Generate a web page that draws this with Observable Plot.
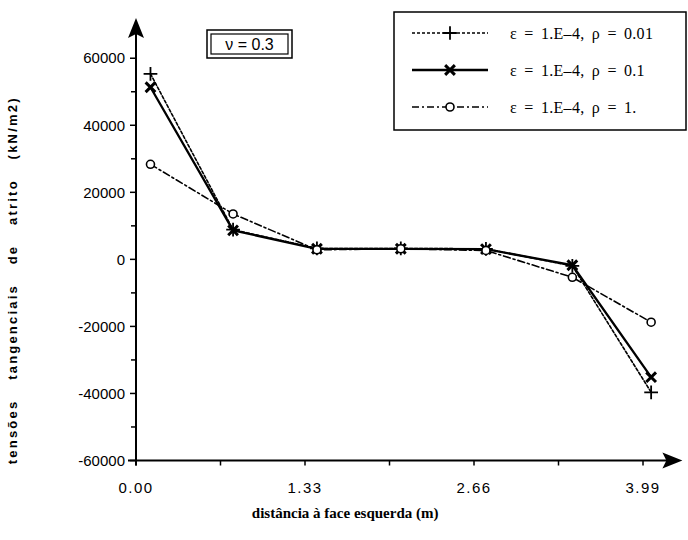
<!DOCTYPE html>
<html><head><meta charset="utf-8">
<script src="https://cdn.jsdelivr.net/npm/d3@7"></script>
<script src="https://cdn.jsdelivr.net/npm/@observablehq/plot@0.6"></script>
<style>
body{margin:0;background:#fff}
#chart{width:688px;height:540px}
</style>
</head><body><div id="chart"></div>
<script>
// ---- data ----
const xPositions = [0.11, 0.76, 1.42, 2.08, 2.75, 3.43, 4.05];
const seriesNames = ["ε = 1.E–4, ρ = 0.01", "ε = 1.E–4, ρ = 0.1", "ε = 1.E–4, ρ = 1."];
const rho001 = [55500, 9000, 3400, 3400, 3300, -1800, -39500];
const rho01  = [51500, 8800, 3300, 3300, 3200, -1600, -35000];
const rho1   = [28500, 13700, 3000, 3300, 2800, -5200, -18600];
const yMajorTicks = [-60000, -40000, -20000, 0, 20000, 40000, 60000];
const yMinorTicks = [-50000, -30000, -10000, 10000, 30000, 50000];
const xMajorTicks = [0, 1.33, 2.66, 3.99];
const xTickLabels = ["0.00", "1.33", "2.66", "3.99"];
const xMinorTicks = [0.665, 1.995, 3.325];
const xDomain = [0, 4.3];
const yDomain = [-60000, 72000];
const yLabel = "tensões tangenciais de atrito (kN/m2)";
const xLabel = "distância à face esquerda (m)";
const boxLabel = "ν = 0.3";

// ---- styles ----
const styles = [
  {dash: "3,2", width: 1.6, symbol: "plus", symD3: d3.symbolPlus, r: 4.5, sw: 1.8, fill: "none"},
  {dash: null, width: 2.3, symbol: "times", symD3: d3.symbolTimes, r: 4.5, sw: 3, fill: "none"},
  {dash: "7,3,2,3", width: 1.6, symbol: "circle", symD3: d3.symbolCircle, r: 4, sw: 1.6, fill: "white"}
];
const allSeries = [rho001, rho01, rho1];
const rows = allSeries.flatMap((vals, i) => vals.map((v, j) => ({x: xPositions[j], y: v, s: i})));

function axesMark(index, scales) {
  const x = scales.x, y = scales.y;
  const g = d3.create("svg:g");
  const x0 = x(xDomain[0]), xEnd = x(xDomain[1]);
  const yBot = y(yDomain[0]), yTop = y(yDomain[1]);
  g.append("line").attr("x1", x0).attr("x2", x0).attr("y1", yBot + 5).attr("y2", yTop + 12)
    .attr("stroke", "black").attr("stroke-width", 2);
  g.append("line").attr("x1", x0 - 8).attr("x2", xEnd - 10).attr("y1", yBot).attr("y2", yBot)
    .attr("stroke", "black").attr("stroke-width", 2);
  g.append("path").attr("d", `M${x0},${yTop} L${x0 + 8},${yTop + 20} L${x0},${yTop + 16} L${x0 - 8},${yTop + 20} Z`).attr("fill", "black");
  g.append("path").attr("d", `M${xEnd},${yBot} L${xEnd - 20},${yBot - 8} L${xEnd - 16},${yBot} L${xEnd - 20},${yBot + 8} Z`).attr("fill", "black");
  for (const t of yMajorTicks) {
    g.append("line").attr("x1", x0 - 6).attr("x2", x0 + 1).attr("y1", y(t)).attr("y2", y(t)).attr("stroke", "black").attr("stroke-width", 1.5);
    g.append("text").attr("x", x0 - 11).attr("y", y(t)).attr("dy", "0.35em").attr("text-anchor", "end")
      .attr("font-family", "Liberation Sans, Arial, sans-serif").attr("font-size", 15).attr("fill", "black")
      .text(String(t));
  }
  for (const t of yMinorTicks) {
    g.append("line").attr("x1", x0 - 5).attr("x2", x0 + 1).attr("y1", y(t)).attr("y2", y(t)).attr("stroke", "black").attr("stroke-width", 1.5);
  }
  xMajorTicks.forEach((t, i) => {
    g.append("line").attr("x1", x(t)).attr("x2", x(t)).attr("y1", yBot).attr("y2", yBot + 5).attr("stroke", "black").attr("stroke-width", 1.5);
    g.append("text").attr("x", x(t)).attr("y", yBot + 32).attr("text-anchor", "middle")
      .attr("font-family", "Liberation Sans, Arial, sans-serif").attr("font-size", 15).attr("letter-spacing", 1.5).attr("fill", "black")
      .text(xTickLabels[i]);
  });
  for (const t of xMinorTicks) {
    g.append("line").attr("x1", x(t)).attr("x2", x(t)).attr("y1", yBot).attr("y2", yBot + 5).attr("stroke", "black").attr("stroke-width", 1.5);
  }
  g.append("text").attr("transform", `translate(17,${(yBot + yTop) / 2 + 41}) rotate(-90)`).attr("text-anchor", "middle")
    .attr("font-family", "Liberation Sans, Arial, sans-serif").attr("font-size", 13).attr("font-weight", "bold")
    .attr("letter-spacing", 2.2).attr("word-spacing", 14).attr("fill", "black").text(yLabel);
  g.append("text").attr("x", (x0 + xEnd) / 2 - 64).attr("y", yBot + 57).attr("text-anchor", "middle")
    .attr("font-family", "Liberation Serif, Times New Roman, serif").attr("font-size", 15).attr("font-weight", "bold")
    .attr("fill", "black").text(xLabel);
  return g.node();
}

function annotationsMark() {
  const g = d3.create("svg:g");
  g.append("rect").attr("x", 207).attr("y", 30).attr("width", 85).attr("height", 28).attr("fill", "white").attr("stroke", "black").attr("stroke-width", 1.5);
  g.append("rect").attr("x", 211).attr("y", 34).attr("width", 77).attr("height", 20).attr("fill", "none").attr("stroke", "black").attr("stroke-width", 1.2);
  g.append("text").attr("x", 249.5).attr("y", 44).attr("dy", "0.36em").attr("text-anchor", "middle")
    .attr("font-family", "Liberation Sans, Arial, sans-serif").attr("font-size", 16).attr("fill", "black").text(boxLabel);
  g.append("rect").attr("x", 394).attr("y", 12).attr("width", 292).attr("height", 118).attr("fill", "white").attr("stroke", "black").attr("stroke-width", 1.5);
  seriesNames.forEach((name, i) => {
    const st = styles[i];
    const cy = 33 + i * 37;
    g.append("line").attr("x1", 412).attr("x2", 488).attr("y1", cy).attr("y2", cy).attr("stroke", "black")
      .attr("stroke-width", st.width).attr("stroke-dasharray", st.dash);
    g.append("path").attr("transform", `translate(450,${cy})`)
      .attr("d", d3.symbol(st.symD3, st.r * st.r * Math.PI)())
      .attr("fill", st.fill).attr("stroke", "black").attr("stroke-width", st.sw);
    g.append("text").attr("x", 510).attr("y", cy).attr("dy", "0.35em").attr("text-anchor", "start")
      .attr("font-family", "Liberation Serif, Times New Roman, serif").attr("font-size", 16)
      .attr("word-spacing", 3).attr("letter-spacing", 0.3).attr("fill", "black").text(name);
  });
  return g.node();
}

const marks = [axesMark];
styles.forEach((st, i) => {
  const data = rows.filter(d => d.s === i);
  marks.push(Plot.line(data, {x: "x", y: "y", stroke: "black", strokeWidth: st.width, strokeDasharray: st.dash || undefined}));
});
styles.forEach((st, i) => {
  const data = rows.filter(d => d.s === i);
  marks.push(Plot.dot(data, {x: "x", y: "y", symbol: st.symbol, r: st.r, stroke: "black", strokeWidth: st.sw, fill: st.fill}));
});
marks.push(annotationsMark);

const chart = Plot.plot({
  width: 688,
  height: 540,
  marginLeft: 136,
  marginRight: 5.6,
  marginTop: 18,
  marginBottom: 79.5,
  x: {domain: xDomain, axis: null},
  y: {domain: yDomain, axis: null},
  style: {background: "white", overflow: "visible"},
  marks
});
document.getElementById("chart").appendChild(chart);
</script>
</body></html>
